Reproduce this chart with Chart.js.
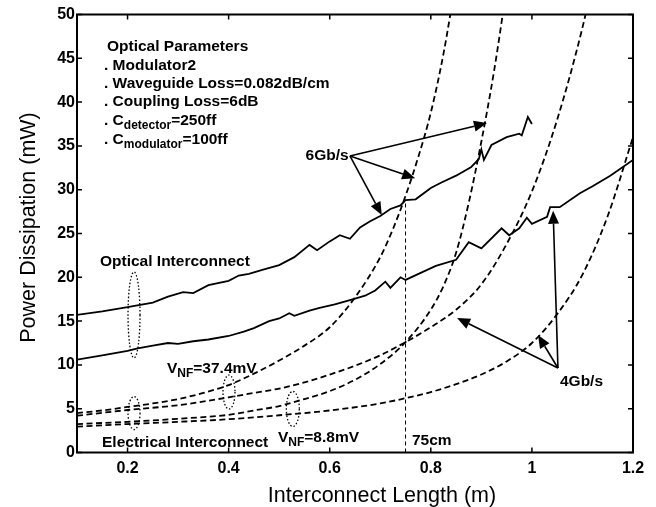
<!DOCTYPE html>
<html>
<head>
<meta charset="utf-8">
<script src="https://cdn.jsdelivr.net/npm/chart.js@4.4.1/dist/chart.umd.min.js"></script>
<style>
html, body { margin: 0; padding: 0; background: #fff; }
#wrap { width: 656px; height: 507px; }
</style>
</head>
<body>
<div id="wrap"><canvas id="myChart" width="656" height="507"></canvas></div>
<script>
// axis ticks
const xTicks = [0.2, 0.4, 0.6, 0.8, 1, 1.2];
const yTicks = [0, 5, 10, 15, 20, 25, 30, 35, 40, 45, 50];

// optical interconnect, 6Gb/s (upper solid)
const opt6gLen = [0.1, 0.15, 0.2, 0.25, 0.28, 0.31, 0.33, 0.36, 0.4, 0.42, 0.44, 0.47, 0.5, 0.53, 0.56, 0.575, 0.6, 0.62, 0.64, 0.66, 0.68, 0.7, 0.72, 0.74, 0.75, 0.77, 0.8, 0.82, 0.85, 0.88, 0.895, 0.9, 0.905, 0.92, 0.95, 0.975, 0.98, 0.992, 1.0];
const opt6gPwr = [15.7, 16.1, 16.6, 17.1, 17.8, 18.3, 18.2, 19.1, 19.6, 20.2, 20.4, 20.9, 21.4, 22.3, 23.7, 23.1, 24.1, 24.8, 24.4, 25.7, 26.4, 27.0, 27.8, 28.2, 28.8, 28.9, 30.2, 30.8, 31.6, 32.6, 33.5, 34.6, 33.4, 35.1, 36.0, 36.4, 36.2, 38.3, 37.5];

// optical interconnect, 4Gb/s (lower solid)
const opt4gLen = [0.1, 0.15, 0.2, 0.22, 0.25, 0.28, 0.3, 0.33, 0.36, 0.4, 0.43, 0.45, 0.48, 0.5, 0.52, 0.53, 0.56, 0.58, 0.61, 0.64, 0.67, 0.69, 0.71, 0.72, 0.74, 0.75, 0.78, 0.81, 0.85, 0.875, 0.9, 0.94, 0.955, 0.975, 0.99, 1.0, 1.03, 1.036, 1.055, 1.095, 1.12, 1.155, 1.2];
const opt4gPwr = [10.6, 11.1, 11.6, 11.9, 12.2, 12.5, 12.4, 12.7, 12.9, 13.3, 13.8, 14.2, 15.0, 15.3, 15.9, 15.6, 16.2, 16.5, 16.9, 17.4, 17.9, 18.5, 19.5, 18.8, 20.0, 19.7, 20.5, 21.3, 22.0, 24.0, 23.3, 25.6, 24.8, 25.6, 26.8, 26.1, 26.9, 28.0, 28.0, 29.6, 30.4, 31.6, 33.4];

// electrical, VNF=37.4mV, 6Gb/s
const e374x6gLen = [0.1, 0.15, 0.2, 0.25, 0.3, 0.35, 0.4, 0.45, 0.5, 0.55, 0.6, 0.65, 0.7, 0.725, 0.75, 0.775, 0.8, 0.825, 0.85];
const e374x6gPwr = [4.5, 4.8, 5.2, 5.6, 6.1, 6.8, 7.7, 9.0, 10.5, 12.2, 14.3, 17.7, 22.3, 25.5, 29.3, 33.7, 38.8, 45.5, 54];

// electrical, VNF=37.4mV, 4Gb/s
const e374x4gLen = [0.1, 0.2, 0.3, 0.4, 0.45, 0.5, 0.55, 0.6, 0.65, 0.7, 0.75, 0.8, 0.85, 0.9, 0.95, 1.0, 1.05, 1.1, 1.125];
const e374x4gPwr = [4.2, 4.85, 5.4, 6.3, 6.8, 7.3, 8.0, 8.9, 9.9, 11.1, 12.6, 14.3, 16.3, 19.2, 23.8, 29.8, 38.0, 48.5, 55];

// electrical, VNF=8.8mV, 6Gb/s
const e88x6gLen = [0.1, 0.2, 0.3, 0.4, 0.45, 0.5, 0.55, 0.6, 0.65, 0.7, 0.75, 0.8, 0.825, 0.85, 0.875, 0.9, 0.925, 0.95];
const e88x6gPwr = [3.25, 3.5, 3.85, 4.3, 4.8, 5.3, 6.1, 7.0, 8.3, 10.1, 12.6, 16.3, 19.0, 22.8, 28.5, 35.5, 43.5, 53];

// electrical, VNF=8.8mV, 4Gb/s
const e88x4gLen = [0.1, 0.2, 0.3, 0.4, 0.5, 0.6, 0.7, 0.75, 0.8, 0.85, 0.9, 0.95, 1.0, 1.05, 1.1, 1.15, 1.2];
const e88x4gPwr = [2.95, 3.25, 3.5, 3.8, 4.25, 4.8, 5.6, 6.2, 6.9, 7.8, 8.9, 10.4, 12.5, 15.8, 20.3, 27.0, 36.0];

// 75cm marker
const markLen = [0.75, 0.75];
const markPwr = [0, 28.8];

const toPts = (xs, ys) => xs.map((v, i) => ({ x: v, y: ys[i] }));

const FONT = '"Liberation Sans", Arial, sans-serif';
const BOLD = 'bold 15.5px ' + FONT;
const SUB = 'bold 12px ' + FONT;

function solid(pts) {
    return { data: pts, showLine: true, borderColor: '#000', borderWidth: 1.8, pointRadius: 0, tension: 0 };
}
function dashed(pts) {
    return { data: pts, showLine: true, borderColor: '#000', borderWidth: 1.8, borderDash: [6, 3.5],
        pointRadius: 0, cubicInterpolationMode: 'monotone' };
}

// draws a string with an optional subscript part: [[text, isSub], ...]
function richText(ctx, parts, x, y) {
    let cx = x;
    parts.forEach(([t, sub]) => {
        ctx.font = sub ? SUB : BOLD;
        ctx.fillText(t, cx, sub ? y + 4 : y);
        cx += ctx.measureText(t).width;
    });
}

function arrow(ctx, x0, y0, x1, y1) {
    const ang = Math.atan2(y1 - y0, x1 - x0);
    const len = 13, hw = 5.5;
    const bx = x1 - len * Math.cos(ang), by = y1 - len * Math.sin(ang);
    ctx.beginPath();
    ctx.moveTo(x0, y0);
    ctx.lineTo(bx, by);
    ctx.stroke();
    ctx.beginPath();
    ctx.moveTo(x1, y1);
    ctx.lineTo(bx + hw * Math.sin(ang), by - hw * Math.cos(ang));
    ctx.lineTo(bx - hw * Math.sin(ang), by + hw * Math.cos(ang));
    ctx.closePath();
    ctx.fill();
}

const frame = {
    id: 'frame',
    afterDatasetsDraw(chart) {
        const { ctx, chartArea: a, scales: { x, y } } = chart;
        ctx.save();
        ctx.strokeStyle = '#000';
        ctx.lineWidth = 2;
        ctx.strokeRect(a.left, a.top, a.right - a.left, a.bottom - a.top);
        ctx.lineWidth = 1.5;
        ctx.beginPath();
        xTicks.forEach(v => {
            const p = x.getPixelForValue(v);
            ctx.moveTo(p, a.bottom); ctx.lineTo(p, a.bottom - 5);
            ctx.moveTo(p, a.top); ctx.lineTo(p, a.top + 5);
        });
        yTicks.forEach(v => {
            const p = y.getPixelForValue(v);
            ctx.moveTo(a.left, p); ctx.lineTo(a.left + 5, p);
            ctx.moveTo(a.right, p); ctx.lineTo(a.right - 5, p);
        });
        ctx.stroke();

        // axis titles
        ctx.fillStyle = '#000';
        ctx.font = '21.5px ' + FONT;
        ctx.textAlign = 'center';
        ctx.textBaseline = 'alphabetic';
        ctx.fillText('Interconnect Length (m)', 382, 502);
        ctx.save();
        ctx.translate(35, 227.5);
        ctx.rotate(-Math.PI / 2);
        ctx.fillText('Power Dissipation (mW)', 0, 0);
        ctx.restore();
        ctx.restore();
    }
};

const notes = {
    id: 'notes',
    afterDatasetsDraw(chart) {
        const { ctx, scales: { x, y } } = chart;
        const px = v => x.getPixelForValue(v);
        const py = v => y.getPixelForValue(v);
        ctx.save();
        ctx.fillStyle = '#000';
        ctx.strokeStyle = '#000';
        ctx.textAlign = 'left';
        ctx.textBaseline = 'alphabetic';

        // parameter block
        richText(ctx, [['Optical Parameters']], px(0.1593), py(45.83));
        richText(ctx, [['. Modulator2']], px(0.1534), py(43.66));
        richText(ctx, [['. Waveguide Loss=0.082dB/cm']], px(0.1534), py(41.61));
        richText(ctx, [['. Coupling Loss=6dB']], px(0.1534), py(39.55));
        richText(ctx, [['. C'], ['detector', true], ['=250ff']], px(0.1534), py(37.44));
        richText(ctx, [['. C'], ['modulator', true], ['=100ff']], px(0.1534), py(35.27));

        richText(ctx, [['6Gb/s']], px(0.5523), py(33.39));
        richText(ctx, [['4Gb/s']], px(1.0555), py(7.59));
        richText(ctx, [['Optical Interconnect']], px(0.1455), py(21.29));
        richText(ctx, [['Electrical Interconnect']], px(0.1495), py(0.63));
        richText(ctx, [['V'], ['NF', true], ['=37.4mV']], px(0.278), py(9.02));
        richText(ctx, [['V'], ['NF', true], ['=8.8mV']], px(0.4976), py(1.2));
        richText(ctx, [['75cm']], px(0.7627), py(0.8));

        // dotted ellipses grouping curves
        ctx.lineWidth = 1.3;
        ctx.setLineDash([1.5, 2]);
        [[0.2128, 15.7, 6, 43], [0.2128, 4.5, 6, 16.5], [0.4007, 6.9, 6, 17], [0.527, 4.97, 6.5, 17.5]]
            .forEach(([cx, cy, rx, ry]) => {
                ctx.beginPath();
                ctx.ellipse(px(cx), py(cy), rx, ry, 0, 0, Math.PI * 2);
                ctx.stroke();
            });
        ctx.setLineDash([]);

        // arrows
        ctx.lineWidth = 1.6;
        [[0.911, 37.6], [0.769, 31.3], [0.703, 27.1]].forEach(([tx, ty]) =>
            arrow(ctx, px(0.640), py(33.85), px(tx), py(ty)));
        [[0.852, 15.35], [1.012, 13.4], [1.042, 27.6]].forEach(([tx, ty]) =>
            arrow(ctx, px(1.0515), py(9.65), px(tx), py(ty)));
        ctx.restore();
    }
};

const data = {
    datasets: [
        solid(toPts(opt6gLen, opt6gPwr)),
        solid(toPts(opt4gLen, opt4gPwr)),
        dashed(toPts(e374x6gLen, e374x6gPwr)),
        dashed(toPts(e374x4gLen, e374x4gPwr)),
        dashed(toPts(e88x6gLen, e88x6gPwr)),
        dashed(toPts(e88x4gLen, e88x4gPwr)),
        { data: toPts(markLen, markPwr), showLine: true, borderColor: '#000', borderWidth: 1,
          borderDash: [4, 3], pointRadius: 0 }
    ]
};

const config = {
    type: 'scatter',
    data,
    plugins: [frame, notes],
    options: {
        responsive: false,
        animation: false,
        layout: { padding: { left: 0, right: 23, top: 14.5, bottom: 0 } },
        plugins: { legend: { display: false }, tooltip: { enabled: false } },
        scales: {
            x: {
                type: 'linear', min: 0.1, max: 1.2,
                grid: { display: false, drawTicks: false },
                border: { display: false },
                afterBuildTicks: s => { s.ticks = xTicks.map(v => ({ value: v })); },
                afterFit: s => { s.height = 54.5; },
                ticks: { color: '#000', padding: 6, maxRotation: 0, autoSkip: false,
                    font: { family: FONT, size: 16, weight: 'bold' },
                    callback: v => String(v) }
            },
            y: {
                type: 'linear', min: 0, max: 50,
                grid: { display: false, drawTicks: false },
                border: { display: false },
                afterBuildTicks: s => { s.ticks = yTicks.map(v => ({ value: v })); },
                afterFit: s => { s.width = 77; },
                ticks: { color: '#000', padding: 2, autoSkip: false,
                    font: { family: FONT, size: 16, weight: 'bold' },
                    callback: v => String(v) }
            }
        }
    }
};

const myChart = new Chart(document.getElementById('myChart'), config);
</script>
</body>
</html>
